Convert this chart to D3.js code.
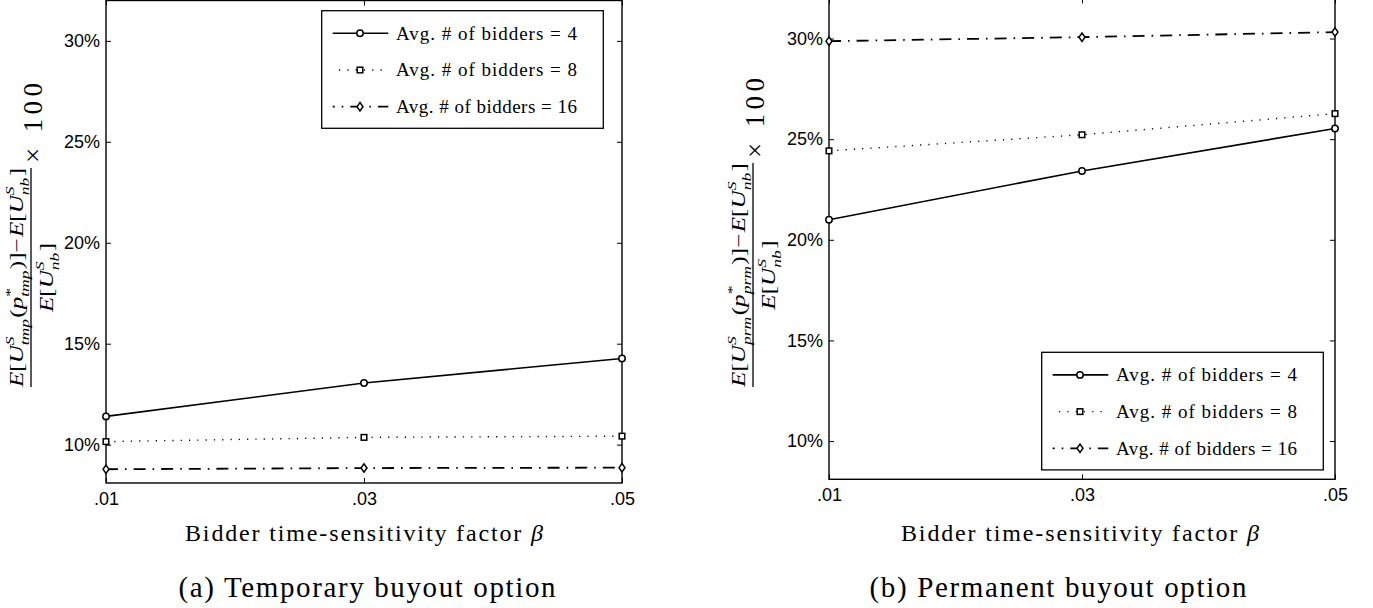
<!DOCTYPE html>
<html><head><meta charset="utf-8">
<script src="https://cdn.jsdelivr.net/npm/d3@7"></script>
<style>body{margin:0;background:#fff}svg{display:block}</style>
</head><body>
<svg id="c" width="1373" height="608"></svg>
<script>
// ---- data ----
const betas = [0.01, 0.03, 0.05];
const xTickLabels = [".01", ".03", ".05"];
const yTicks = [10, 15, 20, 25, 30];
const tmp4  = [11.4, 13.05, 14.27];
const tmp8  = [10.15, 10.36, 10.42];
const tmp16 = [8.78, 8.84, 8.86];
const prm4  = [21.0, 23.42, 25.53];
const prm8  = [24.42, 25.22, 26.27];
const prm16 = [29.87, 30.07, 30.32];
const legendLabels = ["Avg. # of bidders = 4", "Avg. # of bidders = 8", "Avg. # of bidders = 16"];
const captions = ["(a) Temporary buyout option", "(b) Permanent buyout option"];
const xTitle = "Bidder time-sensitivity factor ";
const subs = ["tmp", "prm"];

// ---- layout ----
const svg = d3.select("#c");
const serif = "'Liberation Serif','Times New Roman',serif";
const sans = "'Liberation Sans',Arial,sans-serif";
const panels = [
  {x0:106, x1:622, yBot:483, yTop:0.5, data:[tmp4,tmp8,tmp16], sub:subs[0], leg:{x:321.7,y:10.7},
   barX:31, barY0:168, barY1:387, caption:captions[0], capX:367, titleX:364},
  {x0:829, x1:1335, yBot:479.3, yTop:-1.7, data:[prm4,prm8,prm16], sub:subs[1], leg:{x:1041.7,y:352.3},
   barX:753, barY0:163, barY1:387, caption:captions[1], capX:1058, titleX:1080}
];
const styles = [
  {dash:null, w:1.6, marker:"circle"},
  {dash:"1.2,7.1", w:1.4, marker:"square"},
  {dash:"12,7,1.6,7", w:1.8, marker:"diamond"}
];

function marker(g, type, x, y){
  if(type==="circle") g.append("circle").attr("cx",x).attr("cy",y).attr("r",3.2)
      .attr("fill","#fff").attr("stroke","#000").attr("stroke-width",1.5);
  else if(type==="square") g.append("rect").attr("x",x-2.8).attr("y",y-2.8).attr("width",5.6).attr("height",5.6)
      .attr("fill","#fff").attr("stroke","#000").attr("stroke-width",1.5);
  else g.append("path").attr("d",`M${x},${y-4.2}L${x+3},${y}L${x},${y+4.2}L${x-3},${y}Z`)
      .attr("fill","#fff").attr("stroke","#000").attr("stroke-width",1.5);
}

function mathRow(g, pieces, fs){
  let u = 0;
  for(const p of pieces){
    if(p.t!==undefined){
      const t = g.append("text").attr("x",u).attr("y",0).attr("font-size",fs)
        .attr("font-family",serif).attr("font-style",p.i?"italic":"normal").text(p.t);
      u += t.node().getComputedTextLength() + (p.pad||0);
    } else {
      const sfs = fs*0.7; let w = 0;
      if(p.sup){
        const t = g.append("text").attr("x",u).attr("y",-fs*0.48).attr("font-size",sfs)
          .attr("font-family",serif).attr("font-style",p.supRoman?"normal":"italic").text(p.sup);
        w = Math.max(w, t.node().getComputedTextLength());
      }
      if(p.sub){
        const t = g.append("text").attr("x",u).attr("y",fs*0.32).attr("font-size",sfs)
          .attr("font-family",serif).attr("font-style","italic").text(p.sub);
        w = Math.max(w, t.node().getComputedTextLength());
      }
      u += w + 1;
    }
  }
  return u;
}

panels.forEach(P => {
  const x = d3.scaleLinear().domain([0.01,0.05]).range([P.x0,P.x1]);
  const y = d3.scaleLinear().domain([8.1,32]).range([P.yBot,P.yTop]);
  const g = svg.append("g");

  const ax = (sel)=>sel.call(s=>s.select(".domain").remove())
      .call(s=>s.selectAll(".tick line").attr("stroke","#000").attr("stroke-width",1));
  g.append("g").attr("transform",`translate(${P.x0},0)`)
    .call(d3.axisLeft(y).tickValues(yTicks).tickSize(-5).tickPadding(6).tickFormat(d=>d+"%"))
    .call(ax).call(s=>s.selectAll("text").attr("font-family",sans).attr("font-size",18).attr("fill","#000"));
  g.append("g").attr("transform",`translate(${P.x1},0)`)
    .call(d3.axisRight(y).tickValues(yTicks).tickSize(-5).tickFormat(""))
    .call(ax);
  g.append("g").attr("transform",`translate(0,${P.yBot})`)
    .call(d3.axisBottom(x).tickValues(betas).tickSize(-5).tickPadding(9).tickFormat((d,i)=>xTickLabels[i]))
    .call(ax).call(s=>s.selectAll("text").attr("font-family",sans).attr("font-size",18).attr("fill","#000"));
  g.append("g").attr("transform",`translate(0,${P.yTop})`)
    .call(d3.axisTop(x).tickValues(betas).tickSize(-5).tickFormat(""))
    .call(ax);
  g.append("rect").attr("x",P.x0).attr("y",P.yTop).attr("width",P.x1-P.x0).attr("height",P.yBot-P.yTop)
    .attr("fill","none").attr("stroke","#000").attr("stroke-width",1.4);

  const line = d3.line().x((d,i)=>x(betas[i])).y(d=>y(d));
  P.data.forEach((vals,si)=>{
    const st = styles[si];
    g.append("path").attr("d",line(vals)).attr("fill","none").attr("stroke","#000")
      .attr("stroke-width",st.w).attr("stroke-dasharray",st.dash);
    vals.forEach((v,i)=>marker(g, st.marker, x(betas[i]), y(v)));
  });

  const L = g.append("g").attr("transform",`translate(${P.leg.x},${P.leg.y})`);
  L.append("rect").attr("width",281.6).attr("height",117.6).attr("fill","#fff")
    .attr("stroke","#000").attr("stroke-width",1.3);
  legendLabels.forEach((lab,i)=>{
    const cy = 22.6 + i*36.7, st = styles[i];
    L.append("line").attr("x1",11).attr("x2",66.6).attr("y1",cy).attr("y2",cy)
      .attr("stroke","#000").attr("stroke-width",st.w).attr("stroke-dasharray",st.dash)
      .attr("stroke-dashoffset", i===2 ? 10 : (i===1 ? 2 : 0));
    marker(L, st.marker, 38.3, cy);
    L.append("text").attr("x",74.3).attr("y",cy+6.5).attr("font-family",serif).attr("font-size",19)
      .attr("textLength",181).attr("lengthAdjust","spacing").text(lab);
  });

  const tt = g.append("text").attr("x",P.titleX).attr("y",541).attr("text-anchor","middle")
    .attr("font-family",serif).attr("font-size",24).attr("textLength",358).attr("lengthAdjust","spacing");
  tt.append("tspan").text(xTitle);
  tt.append("tspan").attr("font-style","italic").text("β");

  g.append("text").attr("x",P.capX).attr("y",597).attr("text-anchor","middle")
    .attr("font-family",serif).attr("font-size",29).attr("textLength",377).attr("lengthAdjust","spacing")
    .text(P.caption);

  const Lb = P.barY1 - P.barY0, cy = (P.barY0+P.barY1)/2;
  const yl = g.append("g").attr("transform",`translate(${P.barX},${cy}) rotate(-90)`);
  yl.append("line").attr("x1",-Lb/2).attr("x2",Lb/2).attr("y1",0).attr("y2",0)
    .attr("stroke","#000").attr("stroke-width",1.3);
  const num = yl.append("g");
  const nw = mathRow(num, [
    {t:"E",i:1},{t:"["},{t:"U",i:1},{sup:"S",sub:P.sub},{t:"("},{t:"p",i:1},
    {sup:"*",supRoman:1,sub:P.sub},{t:")]"},{t:"−",pad:1},{t:"E",i:1},{t:"["},{t:"U",i:1},{sup:"S",sub:"nb"},{t:"]"}
  ], 18.5);
  const k = Lb/nw;
  num.attr("transform",`translate(${-Lb/2},-8) scale(${k},1)`);
  const den = yl.append("g");
  const dw = mathRow(den, [{t:"E",i:1},{t:"["},{t:"U",i:1},{sup:"S",sub:"nb"},{t:"]"}], 18.5);
  den.attr("transform",`translate(${-dw*k/2},22) scale(${k},1)`);
  yl.append("text").attr("x",Lb/2+5).attr("y",11).attr("font-family",serif).attr("font-size",27)
    .attr("textLength",80).attr("lengthAdjust","spacing").text("× 100");
});
</script>
</body></html>
